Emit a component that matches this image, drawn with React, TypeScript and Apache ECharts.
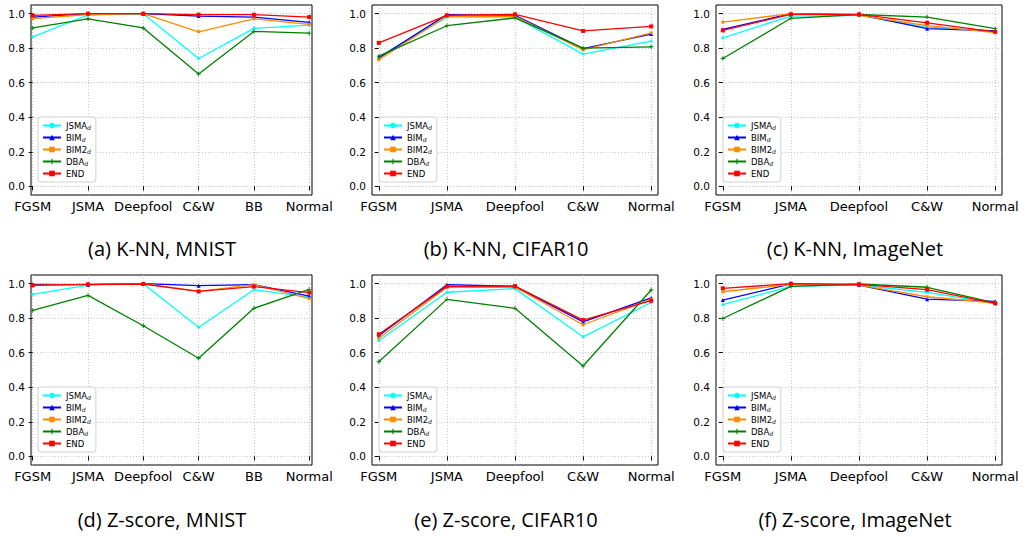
import React, { useEffect, useRef } from "react";
import * as echarts from "echarts";

const CATS_MNIST = ["FGSM", "JSMA", "Deepfool", "C&W", "BB", "Normal"];
const CATS_OTHER = ["FGSM", "JSMA", "Deepfool", "C&W", "Normal"];
const SERIES_NAMES = ["JSMA_d", "BIM_d", "BIM2_d", "DBA_d", "END"];
const Y_TICKS = [0, 0.2, 0.4, 0.6, 0.8, 1.0];
const CAPTIONS = [
  "(a) K-NN, MNIST",
  "(b) K-NN, CIFAR10",
  "(c) K-NN, ImageNet",
  "(d) Z-score, MNIST",
  "(e) Z-score, CIFAR10",
  "(f) Z-score, ImageNet",
];

// (a) K-NN, MNIST
const A_JSMA = [0.866, 0.992, 1.0, 0.74, 0.915, 0.933];
const A_BIM = [0.98, 1.0, 1.0, 0.986, 0.98, 0.95];
const A_BIM2 = [0.971, 0.995, 1.0, 0.895, 0.97, 0.938];
const A_DBA = [0.917, 0.97, 0.917, 0.65, 0.897, 0.887];
const A_END = [0.99, 1.0, 1.0, 0.994, 0.994, 0.98];

// (b) K-NN, CIFAR10
const B_JSMA = [0.748, 0.98, 0.98, 0.766, 0.841];
const B_BIM = [0.744, 0.994, 0.99, 0.798, 0.882];
const B_BIM2 = [0.734, 0.985, 0.985, 0.79, 0.889];
const B_DBA = [0.754, 0.93, 0.975, 0.8, 0.808];
const B_END = [0.831, 0.99, 0.996, 0.9, 0.926];

// (c) K-NN, ImageNet
const C_JSMA = [0.86, 0.986, 0.99, 0.922, 0.9];
const C_BIM = [0.909, 1.0, 0.994, 0.913, 0.9];
const C_BIM2 = [0.951, 1.0, 0.99, 0.93, 0.89];
const C_DBA = [0.74, 0.973, 0.995, 0.98, 0.913];
const C_END = [0.903, 0.996, 0.996, 0.947, 0.895];

// (d) Z-score, MNIST
const D_JSMA = [0.938, 0.992, 1.0, 0.748, 0.965, 0.922];
const D_BIM = [0.996, 0.994, 1.0, 0.988, 0.994, 0.928];
const D_BIM2 = [0.99, 0.996, 1.0, 0.955, 0.994, 0.913];
const D_DBA = [0.845, 0.932, 0.756, 0.568, 0.857, 0.967];
const D_END = [0.99, 0.996, 0.998, 0.955, 0.983, 0.948];

// (e) Z-score, CIFAR10
const E_JSMA = [0.669, 0.95, 0.971, 0.692, 0.891];
const E_BIM = [0.698, 0.994, 0.984, 0.779, 0.917];
const E_BIM2 = [0.684, 0.979, 0.979, 0.762, 0.909];
const E_DBA = [0.548, 0.909, 0.857, 0.523, 0.963];
const E_END = [0.707, 0.984, 0.986, 0.789, 0.901];

// (f) Z-score, ImageNet
const F_JSMA = [0.878, 0.984, 0.992, 0.95, 0.886];
const F_BIM = [0.905, 0.998, 0.992, 0.91, 0.897];
const F_BIM2 = [0.953, 0.996, 0.992, 0.924, 0.888];
const F_DBA = [0.798, 0.984, 0.998, 0.979, 0.888];
const F_END = [0.973, 1.0, 0.996, 0.965, 0.886];

const PANELS = [
  { cats: CATS_MNIST, values: [A_JSMA, A_BIM, A_BIM2, A_DBA, A_END] },
  { cats: CATS_OTHER, values: [B_JSMA, B_BIM, B_BIM2, B_DBA, B_END] },
  { cats: CATS_OTHER, values: [C_JSMA, C_BIM, C_BIM2, C_DBA, C_END] },
  { cats: CATS_MNIST, values: [D_JSMA, D_BIM, D_BIM2, D_DBA, D_END] },
  { cats: CATS_OTHER, values: [E_JSMA, E_BIM, E_BIM2, E_DBA, E_END] },
  { cats: CATS_OTHER, values: [F_JSMA, F_BIM, F_BIM2, F_DBA, F_END] },
];

// layout (pixels)
const GRID_BOXES = [
  { left: 31, top: 5, width: 281, height: 190, xmin: -0.03, xmax: 5.05 },
  { left: 372, top: 5, width: 286, height: 190, xmin: -0.1, xmax: 4.1 },
  { left: 716, top: 5, width: 286, height: 190, xmin: -0.1, xmax: 4.1 },
  { left: 31, top: 275, width: 281, height: 190, xmin: -0.03, xmax: 5.05 },
  { left: 372, top: 275, width: 286, height: 190, xmin: -0.1, xmax: 4.1 },
  { left: 716, top: 275, width: 286, height: 190, xmin: -0.1, xmax: 4.1 },
];
const CAPTION_POS = [
  { x: 162, y: 248 },
  { x: 506, y: 248 },
  { x: 855, y: 248 },
  { x: 162, y: 519 },
  { x: 506, y: 519 },
  { x: 855, y: 519 },
];

const COLORS = ["#00ffff", "#0000ff", "#ff8c00", "#008000", "#ff0000"];
const PLUS = "path://M4,0h2v4h4v2h-4v4h-2v-4h-4v-2h4z";
const SYMBOLS = ["circle", "triangle", "rect", PLUS, "rect"];
const SYMBOL_SIZES = [3, 4, 3, 4.5, 4];

const FONT = "DejaVu Sans";

export default function App() {
  const ref = useRef<HTMLDivElement>(null);
  useEffect(() => {
    if (!ref.current) return;
    const chart = echarts.init(ref.current, undefined, { renderer: "svg" });

    const grids: any[] = [];
    const xAxes: any[] = [];
    const yAxes: any[] = [];
    const legends: any[] = [];
    const series: any[] = [];
    const graphics: any[] = [];

    PANELS.forEach((p, pi) => {
      const g = GRID_BOXES[pi];
      const idx = p.cats.map((_, i) => i);
      grids.push({
        left: g.left,
        top: g.top,
        width: g.width,
        height: g.height,
        show: true,
        borderColor: "#000",
        borderWidth: 1,
        backgroundColor: "transparent",
      });
      xAxes.push({
        type: "value",
        gridIndex: pi,
        min: g.xmin,
        max: g.xmax,
        axisLine: { show: false },
        axisTick: { show: true, length: 4, customValues: idx, lineStyle: { color: "#000", width: 1 } },
        axisLabel: {
          customValues: idx,
          formatter: (v: number) => p.cats[Math.round(v)],
          fontFamily: FONT,
          fontSize: 13,
          color: "#000",
          margin: 5,
        },
        splitLine: { show: true, lineStyle: { type: [1, 2], color: "#b8b8b8", width: 0.8 } },
      });
      yAxes.push({
        type: "value",
        gridIndex: pi,
        min: -0.05,
        max: 1.05,
        axisLine: { show: false },
        axisTick: { show: true, length: 4, customValues: Y_TICKS, lineStyle: { color: "#000", width: 1 } },
        axisLabel: {
          customValues: Y_TICKS,
          formatter: (v: number) => v.toFixed(1),
          fontFamily: FONT,
          fontSize: 10.5,
          color: "#000",
          margin: 6,
        },
        splitLine: { show: true, lineStyle: { type: [1, 2], color: "#b8b8b8", width: 0.8 } },
      });
      legends.push({
        data: SERIES_NAMES,
        orient: "vertical",
        left: g.left + 7,
        top: g.top + 112,
        itemWidth: 18,
        itemHeight: 7,
        itemGap: 2.5,
        padding: [4, 5, 4, 4],
        backgroundColor: "#fff",
        borderColor: "#d0d0d0",
        borderWidth: 1,
        borderRadius: 3,
        selectedMode: false,
        formatter: (name: string) =>
          name.endsWith("_d") ? `${name.slice(0, -2)}{sub|d}` : name,
        textStyle: {
          fontFamily: FONT,
          fontSize: 8.5,
          color: "#000",
          rich: {
            sub: { fontFamily: FONT, fontSize: 6, fontStyle: "italic", color: "#000", padding: [4, 0, 0, 0] },
          },
        },
      });
      SERIES_NAMES.forEach((name, si) => {
        series.push({
          type: "line",
          name,
          xAxisIndex: pi,
          yAxisIndex: pi,
          data: idx.map((i) => [i, p.values[si][i]]),
          symbol: SYMBOLS[si],
          symbolSize: SYMBOL_SIZES[si],
          showSymbol: true,
          lineStyle: { color: COLORS[si], width: 1.3 },
          itemStyle: { color: COLORS[si] },
          z: 2 + si,
        });
      });
      graphics.push({
        type: "text",
        x: CAPTION_POS[pi].x,
        y: CAPTION_POS[pi].y,
        style: {
          text: CAPTIONS[pi],
          font: '20px "Open Sans"',
          fill: "#000",
          textAlign: "center",
          textVerticalAlign: "middle",
        },
      });
    });

    chart.setOption({
      animation: false,
      backgroundColor: "#fff",
      grid: grids,
      xAxis: xAxes,
      yAxis: yAxes,
      legend: legends,
      series,
      graphic: graphics,
    });
    return () => chart.dispose();
  }, []);
  return (
    <div
      ref={ref}
      style={{ position: "fixed", left: 0, top: 0, width: 1026, height: 537 }}
    />
  );
}
